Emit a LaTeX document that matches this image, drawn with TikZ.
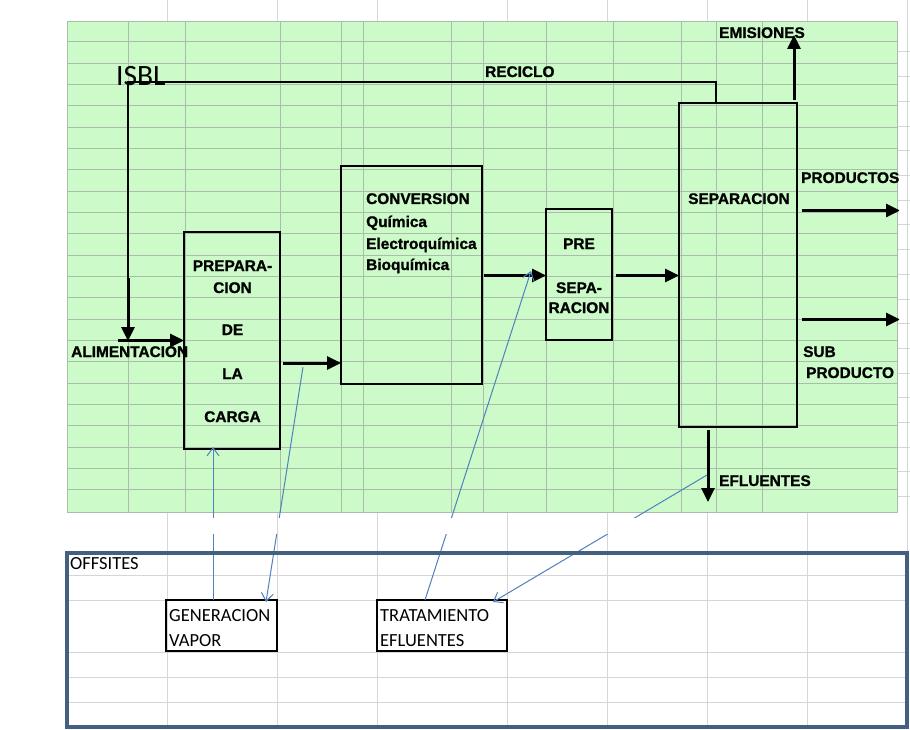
\documentclass[tikz,border=0pt]{standalone}
\usepackage{fontspec}
\setmainfont{Liberation Sans}[BoldFont={Liberation Sans Bold}, BoldFeatures={FakeBold=1.2}]
\newfontfamily\calib{Carlito}
\usetikzlibrary{arrows.meta}
\definecolor{gfill}{RGB}{204,250,200}
\definecolor{ggrid}{RGB}{170,188,170}
\definecolor{wgrid}{RGB}{214,214,214}
\definecolor{bline}{RGB}{79,129,189}
\definecolor{offb}{RGB}{68,96,128}
\tikzset{
  box/.style={draw, line width=2pt, rectangle, inner sep=0pt, outer sep=0pt},
  lbl/.style={font=\bfseries\fontsize{15.4}{18}\selectfont, inner sep=0pt},
  clb/.style={font=\calib\fontsize{18.5}{20}\selectfont, inner sep=0pt, anchor=base west},
  thk/.style={line width=3pt, -{Triangle[length=14pt,width=13pt]}},
  thn/.style={line width=2pt},
  blu/.style={draw=bline, line width=1pt, -{Straight Barb[length=8pt,width=12pt]}},
  wg/.style={wgrid, line width=1pt},
  gg/.style={ggrid, line width=0.9pt}
}
\begin{document}
\begin{tikzpicture}[x=1pt,y=-1pt]
\useasboundingbox (0,0) rectangle (910,730);
\fill[white] (0,0) rectangle (910,730);
% white sheet grid
\foreach \xx in {167,277,377,507,607,707,807} {
  \draw[wg] (\xx,0) -- (\xx,21);
  \draw[wg] (\xx,512) -- (\xx,727);
}
\draw[wg] (907,0) -- (907,553);
\foreach \k in {0,...,18} \draw[wg] (897,{52+24.7*\k}) -- (910,{52+24.7*\k});
\foreach \yy in {575,600,652,677,702} \draw[wg] (67,\yy) -- (907,\yy);
% green ISBL area
\fill[gfill] (67,21) rectangle (897,512);
\foreach \k in {1,...,22} \draw[gg] (67,{20.6+21.33*\k}) -- (897,{20.6+21.33*\k});
\foreach \xx in {128,185,280,341.5,363,451,483,546,613,681,716.5,762} \draw[gg] (\xx,21) -- (\xx,512);
\draw[gg] (67,21) rectangle (897,512);
% process boxes
\node[box, minimum width=96pt, minimum height=217pt] (prep) at (232,340.5) {};
\node[box, minimum width=141pt, minimum height=217.5pt] (conv) at (411.5,274.75) {};
\node[box, minimum width=66pt, minimum height=131pt] (pre) at (579,274.5) {};
\node[box, minimum width=118pt, minimum height=324pt] (sep) at (738,265) {};
% texts
\node[font=\calib\fontsize{29.5}{32}\selectfont, inner sep=0pt, anchor=base west] (isbl) at (116,86) {ISBL};
\node[lbl, anchor=base west] (recl) at (485,77) {RECICLO};
\node[lbl, anchor=base west] (emil) at (719,38) {EMISIONES};
\node[lbl, anchor=base west] (alil) at (71,357) {ALIMENTACION};
\node[lbl, anchor=base] (p1) at (232.5,271) {PREPARA-};
\node[lbl, anchor=base] (p2) at (232.5,293) {CION};
\node[lbl, anchor=base] (p3) at (232.5,335) {DE};
\node[lbl, anchor=base] (p4) at (232.5,379) {LA};
\node[lbl, anchor=base] (p5) at (232.5,422) {CARGA};
\node[lbl, anchor=base west] (c1) at (366,204) {CONVERSION};
\node[lbl, anchor=base west] (c2) at (366,227) {Química};
\node[lbl, anchor=base west] (c3) at (366,249) {Electroquímica};
\node[lbl, anchor=base west] (c4) at (366,270) {Bioquímica};
\node[lbl, anchor=base] (s1) at (579,249) {PRE};
\node[lbl, anchor=base] (s2) at (579,293) {SEPA-};
\node[lbl, anchor=base] (s3) at (579,313) {RACION};
\node[lbl, anchor=base] (sepl) at (739,204) {SEPARACION};
\node[lbl, anchor=base west] (subl) at (803,357) {SUB};
\node[lbl, anchor=base west] (efll) at (719,486) {EFLUENTES};
% named points
\coordinate (rtop) at (716,82);
\coordinate (rc) at (128,82);
\coordinate (fd) at (128,278);
\coordinate (fm) at (128,341);
\coordinate (al) at (118,340.5);
\coordinate (a1) at (283,363);
\coordinate (a2) at (484,275.5);
\coordinate (a3) at (616,275.5);
\coordinate (e1) at (794,100);
\coordinate (e2) at (794,35);
\coordinate (pr1) at (802,210.5);
\coordinate (pr2) at (900,210.5);
\coordinate (sb1) at (802,319.5);
\coordinate (sb2) at (900,319.5);
\coordinate (ef1) at (708,430);
\coordinate (ef2) at (708,502);
% connectors
\draw[thn] (sep.north -| rtop) -- (rtop) -- (rc) -- (fd);
\draw[thk] (fd) -- (fm);
\draw[thk] (al) -- (prep.west);
\draw[thk] (a1) -- (a1 -| conv.west);
\draw[thk] (a2) -- (a2 -| pre.west);
\draw[thk] (a3) -- (a3 -| sep.west);
\draw[thk] (e1) -- (e2);
\draw[thk] (ef1) -- (ef2);
\begin{scope}
  \clip (0,0) rectangle (899,730);
  \node[lbl, anchor=base west] (prodl) at (801,183) {PRODUCTOS};
  \node[lbl, anchor=base west] (prol2) at (806,378) {PRODUCTO};
  \draw[thk] (pr1) -- (pr2);
  \draw[thk] (sb1) -- (sb2);
\end{scope}
% offsites
\node[box, minimum width=111pt, minimum height=51pt] (gen) at (221.5,625.5) {};
\node[box, minimum width=130pt, minimum height=51pt] (trat) at (442,625.5) {};
\node[clb] (offl) at (70,569) {OFFSITES};
\node[clb] (g1) at (169,621) {GENERACION};
\node[clb] (g2) at (169,646) {VAPOR};
\node[clb] (t1) at (380,621) {TRATAMIENTO};
\node[clb] (t2) at (380,646) {EFLUENTES};
\coordinate (bx1) at (213,0);
\coordinate (b2s) at (303,367);
\coordinate (bx2) at (266,0);
\coordinate (bx3) at (425,0);
\coordinate (b3e) at (531,271);
\coordinate (b4s) at (707,475);
\coordinate (bx4) at (493,0);
\draw[blu] (gen.north -| bx1) -- ([yshift=2pt]prep.south -| bx1);
\draw[blu] (b2s) -- ([yshift=-2pt]gen.north -| bx2);
\draw[blu] (trat.north -| bx3) -- (b3e);
\draw[blu] (b4s) -- ([yshift=-2pt]trat.north -| bx4);
% gap band of the sheet
\fill[white] (67,518) rectangle (907,534);
\foreach \xx in {167,277,377,507,607,707,807} \draw[wg] (\xx,518) -- (\xx,534);
\node[draw=offb, line width=3.5pt, rectangle, inner sep=0pt, minimum width=840pt, minimum height=174pt] (offs) at (487,640) {};
\end{tikzpicture}
\end{document}
